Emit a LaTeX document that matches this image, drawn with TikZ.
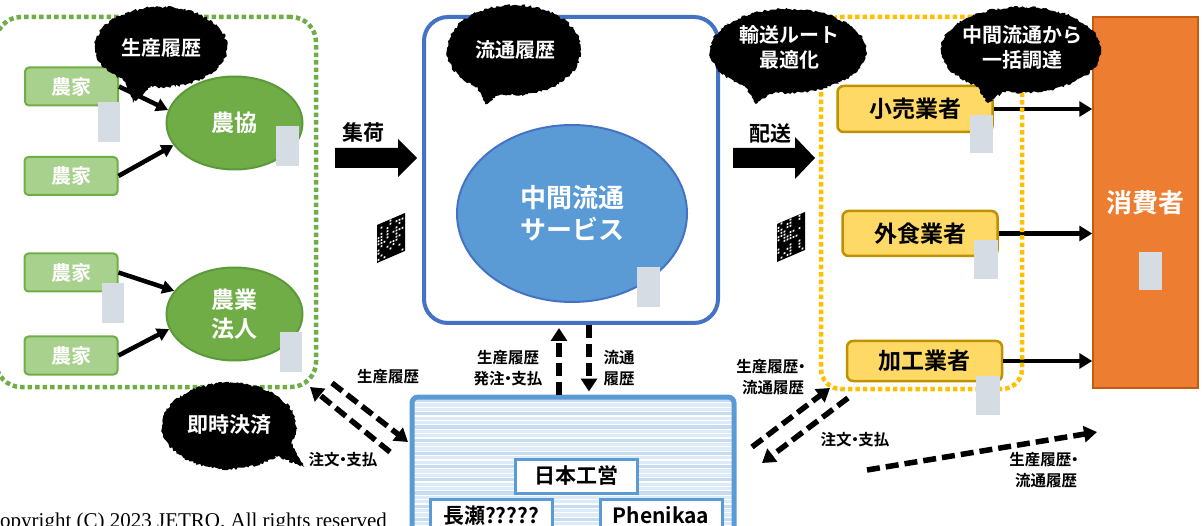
\documentclass[tikz,border=0pt]{standalone}
\usepackage{fontspec}
\newfontfamily\jp{Noto Sans CJK JP}[BoldFont={* Bold}]
\newfontfamily\serifcr{Liberation Serif}
\usetikzlibrary{shapes.geometric,arrows.meta,decorations.pathmorphing}
\definecolor{gmid}{HTML}{70AD47}
\definecolor{gdark}{HTML}{5B9A3A}
\definecolor{glight}{HTML}{A9D18E}
\definecolor{bborder}{HTML}{4472C4}
\definecolor{bfill}{HTML}{5B9BD5}
\definecolor{dbblue}{HTML}{5B9BD5}
\definecolor{ydot}{HTML}{FFC000}
\definecolor{ylight}{HTML}{FFD966}
\definecolor{ydark}{HTML}{BF9000}
\definecolor{orangef}{HTML}{ED7D31}
\definecolor{oranged}{HTML}{C55A11}
\definecolor{greyc}{HTML}{D6DCE4}
\definecolor{stripA}{HTML}{C6DCF3}
\definecolor{stripB}{HTML}{DDEAF8}
\newcommand\jf[2]{\jp\bfseries\fontsize{#1}{#2}\selectfont}
\newcommand\nkg{\kern-0.28em・\kern-0.28em}
\newcommand\qrblock[1]{%
  \begin{scope}[shift={#1}, yslant=0.43]
    \fill[black] (0,0) rectangle (28,38);
    \foreach \i in {0,...,8}{\foreach \j in {0,...,11}{%
      \pgfmathtruncatemacro\rr{rnd*2.3}%
      \ifnum\rr=1 \fill[white] (\i*3+0.5,\j*3.1+0.5) rectangle ++(1.8,1.8);\fi}}
  \end{scope}}
\begin{document}
\begin{tikzpicture}[x=1pt,y=-1pt,
  farm/.style={draw=gmid, fill=glight, line width=2pt, rounded corners=4pt, minimum width=93pt, minimum height=38pt, inner sep=0pt, text=white, font=\jf{20}{24}},
  coop/.style={ellipse, draw=gdark, fill=gmid, line width=2pt, minimum width=136pt, minimum height=93pt, inner sep=0pt, text=white, font=\jf{23}{29}, align=center},
  biz/.style={draw=ydark, fill=ylight, line width=2.5pt, rounded corners=6pt, minimum width=155pt, inner sep=0pt, font=\jf{23}{28}},
  bubbletext/.style={text=white, font=\jf{20}{25}, align=center, inner sep=0pt},
  lbl/.style={font=\jf{15.5}{21}, align=center, inner sep=0pt},
  flowlbl/.style={font=\jf{21}{26}, inner sep=0pt},
  darr/.style={line width=5.5pt, dash pattern=on 13pt off 6pt, -{Triangle[length=13pt,width=16pt]}},
  sarr/.style={line width=4.5pt, -{Triangle[length=12pt,width=13pt]}},
  carr/.style={line width=4.5pt, -{Triangle[length=13pt,width=15pt]}},
  firm/.style={draw=dbblue, fill=white, line width=3pt, minimum width=122pt, inner sep=0pt, font=\jf{21}{26}},
  jag/.style={decorate, decoration={random steps, segment length=2pt, amplitude=1.3pt}},
]
\useasboundingbox (0,0) rectangle (1204,526);
\clip (0,0) rectangle (1204,526);
\pgfmathsetseed{7}

% green dotted group
\node[draw=gmid, line width=4.5pt, dash pattern=on 4.5pt off 3pt, rounded corners=25pt, minimum width=320pt, minimum height=370pt] (gbox) at (156,202) {};

% service box
\node[draw=bborder, line width=4pt, rounded corners=24pt, minimum width=294pt, minimum height=306pt] (svcbox) at (571,170) {};
\node[ellipse, draw=bborder, fill=bfill, line width=2pt, minimum width=230pt, minimum height=177pt, inner sep=0pt, text=white, font=\jf{26}{32}, align=center] (svc) at (572,213.5) {中間流通\\サービス};

% farms and coops
\node[farm] (f1) at (71.5,86.5) {農家};
\node[farm] (f2) at (71,176) {農家};
\node[farm] (f3) at (71,272.5) {農家};
\node[farm] (f4) at (71,355.5) {農家};
\node[coop] (nk) at (234.5,123) {農協};
\node[coop] (nh) at (234.5,314) {農業\\法人};
\draw[sarr] (f1.east) -- (nk.169);
\draw[sarr] (f2.east) -- (nk.200);
\draw[sarr] (f3.east) -- (nh.159);
\draw[sarr] (f4.east) -- (nh.193);

% block arrows
\fill[black] (335,148) -- (398,148) -- (398,139) -- (417,158) -- (398,177) -- (398,168) -- (335,168) -- cycle;
\node[flowlbl] (shuka) at (363,132) {集荷};
\fill[black] (733,148) -- (795,148) -- (795,137) -- (815,158) -- (795,179) -- (795,168) -- (733,168) -- cycle;
\node[flowlbl] (haiso) at (770,133) {配送};

% businesses and consumer
\node[biz, minimum height=46pt] (kr) at (915,109) {小売業者};
\node[biz, minimum height=45pt] (gs) at (920,233.5) {外食業者};
\node[biz, minimum height=40pt] (kk) at (924.5,361) {加工業者};
\node[draw=oranged, fill=orangef, line width=1.5pt, minimum width=105pt, minimum height=371pt, inner sep=0pt, text=white, font=\jf{26}{30}] (cons) at (1145.5,202.5) {消費者};
\draw[carr] (kr.east) -- (kr.east -| cons.west);
\draw[carr] (gs.east) -- (gs.east -| cons.west);
\draw[carr] (kk.east) -- (kk.east -| cons.west);
\node[draw=ydot, line width=4.5pt, dash pattern=on 4.5pt off 3pt, rounded corners=20pt, minimum width=201pt, minimum height=372pt] (ybox) at (921.5,203) {};

% bottom platform box
\begin{scope}
  \clip (412,397) rectangle (734,545);
  \fill[white] (412,397) rectangle (734,545);
  \foreach \k in {0,...,33}{%
    \pgfmathsetmacro\yy{399+\k*4.4}%
    \pgfmathtruncatemacro\m{mod(\k,3)}%
    \ifnum\m=0 \fill[stripA] (412,\yy) rectangle (734,\yy+3.2);%
    \else \fill[stripB] (412,\yy) rectangle (734,\yy+3.2);\fi}
\end{scope}
\node[draw=dbblue, line width=5pt, rounded corners=6pt, minimum width=322pt, minimum height=146pt] (db) at (573,470) {};
\node[firm, minimum height=34pt] (nkei) at (576,476) {日本工営};
\node[firm, anchor=north, text height=21pt, text depth=24pt, inner ysep=3pt] (nse) at (491,498) {長瀬?????};
\node[firm, anchor=north, text height=21pt, text depth=24pt, inner ysep=3pt] (phe) at (661,498) {Phenikaa};

% vertical dashed arrows
\draw[darr, shorten >=3pt] (db.north -| 559,0) -- (svcbox.south -| 559,0);
\draw[darr, shorten >=3pt] (svcbox.south -| 589,0) -- (db.north -| 589,0);
\node[lbl] (l1) at (508,368.5) {生産履歴\\発注\nkg 支払};
\node[lbl] (l2) at (619,368.5) {流通\\履歴};

% diagonal dashed arrows left
\coordinate (a1s) at (332,383);
\coordinate (a1e) at (408,442);
\coordinate (a2s) at (390,452);
\coordinate (a2e) at (310,387);
\draw[darr] (a1s) -- (a1e);
\draw[darr] (a2s) -- (a2e);
\node[lbl] (l3) at (388,377) {生産履歴};
\node[lbl] (l4) at (343,460) {注文\nkg 支払};

% diagonal dashed arrows right
\coordinate (b1s) at (752,447);
\coordinate (b1e) at (830,388);
\coordinate (b2s) at (848,398);
\coordinate (b2e) at (762,463);
\coordinate (b3s) at (867,470);
\coordinate (b3e) at (1097,432);
\draw[darr] (b1s) -- (b1e);
\draw[darr] (b2s) -- (b2e);
\draw[darr] (b3s) -- (b3e);
\node[lbl] (l5) at (773,377) {生産履歴\kern-0.28em・\\流通履歴};
\node[lbl] (l6) at (855,440) {注文\nkg 支払};
\node[lbl] (l7) at (1046,470) {生産履歴\kern-0.28em・\\流通履歴};

% grey placeholders
\fill[greyc] (98,102) rectangle (120,142);
\fill[greyc] (276,126) rectangle (299,166);
\fill[greyc] (102,283) rectangle (124,323);
\fill[greyc] (280,332) rectangle (302,372);
\fill[greyc] (637,267) rectangle (660,307);
\fill[greyc] (970,115) rectangle (993,153);
\fill[greyc] (974,240) rectangle (998,279);
\fill[greyc] (1139,252) rectangle (1162,290);
\fill[greyc] (976,376) rectangle (1000,415);

% speech bubbles
\fill[jag] (161,47) ellipse [x radius=66, y radius=40];
\fill[jag] (122,72) -- (133,103) -- (154,84) -- cycle;
\node[bubbletext] (bb1) at (161,48) {生産履歴};

\fill[jag] (514,50) ellipse [x radius=67, y radius=45];
\fill[jag] (474,80) -- (485,104) -- (506,90) -- cycle;
\node[bubbletext] (bb2) at (515,50) {流通履歴};

\fill[jag] (788,51) ellipse [x radius=78, y radius=42];
\fill[jag] (742,80) -- (756,104) -- (776,90) -- cycle;
\node[bubbletext] (bb3) at (789,47.5) {輸送ルート\\最適化};

\fill[jag] (1021,50) ellipse [x radius=80, y radius=43];
\fill[jag] (974,82) -- (988,103) -- (1006,90) -- cycle;
\node[bubbletext] (bb4) at (1022,47.5) {中間流通から\\一括調達};

\fill[jag] (229,426) ellipse [x radius=67, y radius=43];
\fill[jag] (266,452) -- (305,467) -- (288,438) -- cycle;
\node[bubbletext, font=\jf{21}{25}] (bb5) at (229,425) {即時決済};

% code images
\qrblock{(377,225)}
\qrblock{(777,224)}

% copyright
\node[anchor=base west, inner sep=0pt, font=\serifcr\fontsize{21}{24}\selectfont] (cr) at (-14,527) {Copyright (C) 2023 JETRO. All rights reserved};
\end{tikzpicture}
\end{document}
